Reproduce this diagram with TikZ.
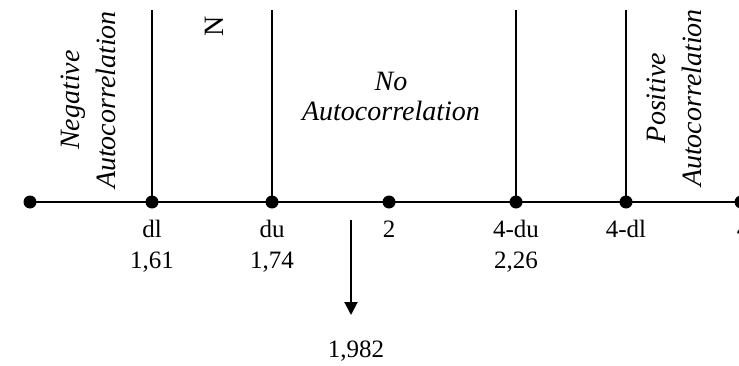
\documentclass[tikz,border=0pt]{standalone}
\usepackage{fontspec}
\setmainfont{Liberation Serif}
\usepackage{tikz}
\usetikzlibrary{arrows.meta, positioning}

\begin{document}
\begin{tikzpicture}[
  x=0.5pt, y=0.5pt,
  dot/.style={circle, fill=black, inner sep=0pt, minimum size=6.5pt},
  axis/.style={line width=1pt},
  vline/.style={line width=0.8pt},
  lbl/.style={anchor=base, align=center, inner sep=0pt, font=\fontsize{12.5}{15.5}\selectfont},
  zone/.style={align=center, inner sep=0pt, font=\fontsize{14}{15}\selectfont\itshape},
  sidezone/.style={zone, rotate=90, font=\fontsize{14}{18}\selectfont\itshape},
  arrow/.style={line width=1pt, -{Triangle[length=6.5pt, width=6.5pt]}}
]
\useasboundingbox (0,0) rectangle (739,365);
\clip (0,0) rectangle (739,365);

% Points on the line
\node (p1) [dot] at (30,163) {};
\node (p2) [dot] at (152,163) {};
\node (p3) [dot] at (272,163) {};
\node (p4) [dot] at (389,163) {};
\node (p5) [dot] at (516,163) {};
\node (p6) [dot] at (626,163) {};
\node (p7) [dot] at (741,163) {};

% Tops of the bounds
\coordinate (t2) at (152,355);
\coordinate (t3) at (272,355);
\coordinate (t5) at (516,355);
\coordinate (t6) at (626,355);

% Lines
\draw [axis] (p1.center) -- (p7.center);
\draw [vline] (p2.center) -- (t2);
\draw [vline] (p3.center) -- (t3);
\draw [vline] (p5.center) -- (t5);
\draw [vline] (p6.center) -- (t6);

% Labels under the points (base = last line)
\node (l2) [lbl] at (152,97) {dl\\1,61};
\node (l3) [lbl] at (272,97) {du\\1,74};
\node (l4) [lbl] at (389,128) {2};
\node (l5) [lbl] at (516,97) {4-du\\2,26};
\node (l6) [lbl] at (626,128) {4-dl};
\node (l7) [lbl] at (743,128) {4};

% Zones
\node (neg) [sidezone] at (88,265) {Negative\\Autocorrelation};
\node (none) [zone] at (391,269) {No\\Autocorrelation};
\node (pos) [sidezone] at (674,267) {Positive\\Autocorrelation};
\node (nd) [rotate=90, inner sep=0pt, font=\fontsize{14}{15}\selectfont] at (214,339) {N};

% Test value
\coordinate (a1) at (351,145);
\coordinate (a2) at (351,50);
\node (dw) [lbl] at (356,8) {1,982};
\draw [arrow] (a1) -- (a2);

\end{tikzpicture}
\end{document}
